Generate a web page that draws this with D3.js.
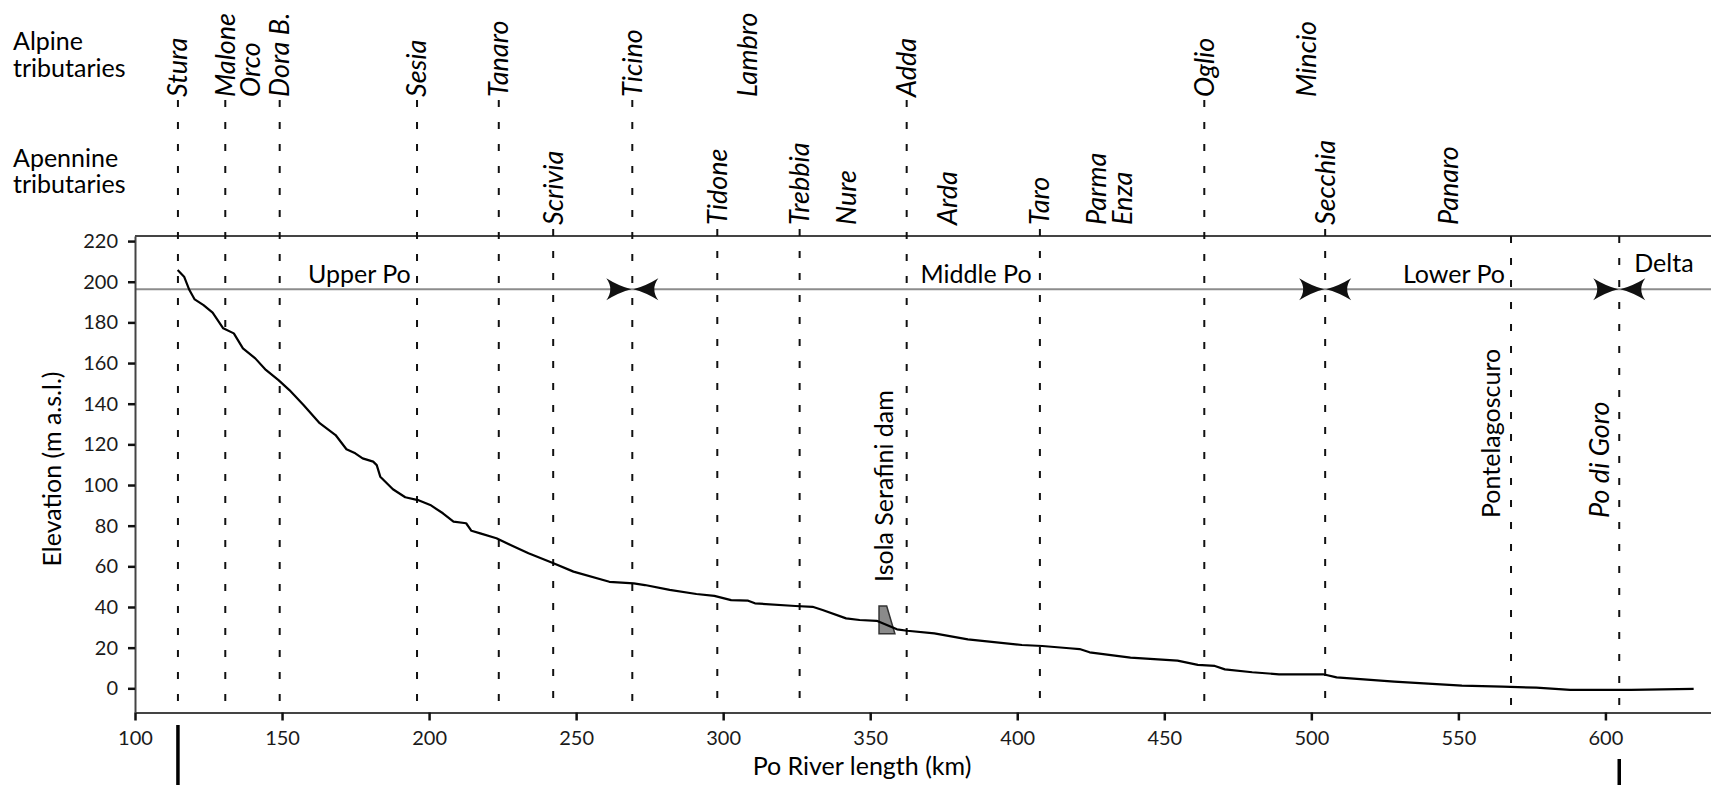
<!DOCTYPE html>
<html>
<head>
<meta charset="utf-8">
<style>
    body {
        margin: 0;
        background: #fff;
    }

    svg {
        display: block;
        font-family: Lato, "Open Sans", sans-serif;
    }

    .tick text {
        font-size: 20px;
        fill: #1a1a1a;
    }

    .lbl {
        font-size: 25px;
        fill: #000;
    }

    .trib {
        font-size: 27px;
        font-style: italic;
        fill: #000;
    }
</style>
</head>
<body>
<svg id="chart" width="1711" height="785"></svg>
<script src="https://cdn.jsdelivr.net/npm/d3@7/dist/d3.min.js"></script>
<script>
    // longitudinal profile of the Po
    var riverKm = [114.5, 116.7, 118.5, 120.3, 123.3, 126.4, 130, 133.6, 136.7, 140.9, 144.5, 148.8, 152.5, 157.3,
        162.8, 168.2, 171.9, 174.9, 177.4, 181, 182.2, 183.4, 187.7, 191.9, 196.2, 200.4, 204.7, 208.3, 212.6,
        214.4, 217.4, 222.9, 227.7, 233.8, 242.3, 249.1, 261.3, 269.6, 273.4, 281.8, 290.9, 297, 302.7, 308.5,
        310.8, 324.6, 330.4, 333.8, 341.8, 346.4, 352.2, 359.1, 362.6, 371.8, 383.2, 401.6, 408.5, 417.7, 421.2,
        424.6, 438.5, 454.5, 461.4, 467.2, 470.6, 479.9, 489, 504, 508.6, 528.2, 551.2, 565, 576.5, 588, 608.7, 630];
    var riverElev = [205.8, 202.5, 195.9, 191.3, 188.5, 184.8, 177.1, 174.6, 167.2, 162.3, 156.6, 151.6, 146.7, 139.4,
        130.4, 124.6, 117.6, 115.6, 113.1, 111.5, 109.8, 104.1, 97.9, 94, 92.6, 90.2, 86.1, 82, 81.2,
        77.5, 76.2, 73.8, 70.5, 66.4, 61.5, 57.4, 52.4, 51.6, 50.8, 48.4, 46.4, 45.5, 43.4, 43.1,
        41.8, 40.5, 40.1, 38.5, 34.4, 33.6, 33.2, 29, 28.3, 27, 24.1, 21.3, 20.8, 19.7, 19.3,
        17.7, 15.1, 13.6, 11.5, 11, 9.3, 7.9, 6.9, 6.9, 5.4, 3.3, 1.3, 0.8, 0.3, -0.8, -0.8, -0.3];

    var alpineNames = [["Stura"], ["Malone", "Orco"], ["Dora B."], ["Sesia"], ["Tanaro"], ["Ticino"], ["Lambro"], ["Adda"], ["Oglio"], ["Mincio"]];
    var alpineKm = [114.6, 130.7, 149.2, 195.9, 223.7, 269.1, 308.2, 362.4, 463.6, 498.3];
    var alpineDashed = [true, true, true, true, true, true, false, true, true, false];

    var apennineNames = [["Scrivia"], ["Tidone"], ["Trebbia"], ["Nure"], ["Arda"], ["Taro"], ["Parma", "Enza"], ["Secchia"], ["Panaro"]];
    var apennineKm = [242.2, 298, 326, 342, 376.4, 407.7, 427.1, 504.7, 546.7];
    var apennineDashed = [true, true, true, false, false, true, false, true, false];

    var stationNames = ["Pontelagoscuro", "Po di Goro"];
    var stationKm = [567.9, 604.7];
    var stationItalic = [false, true];

    var reachNames = ["Upper Po", "Middle Po", "Lower Po", "Delta"];
    var reachLabelKm = [176.3, 386, 548.5, 619.9];
    var reachBounds = [269.1, 504.7, 604.7];
    var reachLineElev = 196.3;

    var damKm = [353, 355.6, 358.4, 353];
    var damElev = [40.5, 40.5, 26.8, 26.8];

    var xTicks = [100, 150, 200, 250, 300, 350, 400, 450, 500, 550, 600];
    var yTicks = [0, 20, 40, 60, 80, 100, 120, 140, 160, 180, 200, 220];

    var plotLeft = 135, plotRight = 1711, plotTop = 236, plotBottom = 712.5;

    var svg = d3.select("#chart");
    var x = d3.scaleLinear().domain([100, 635.9]).range([plotLeft, plotRight]);
    var y = d3.scaleLinear().domain([-11.9, 222.5]).range([plotBottom, plotTop]);

    // frame top + reach line
    svg.append("line").attr("x1", plotLeft).attr("x2", plotRight).attr("y1", plotTop).attr("y2", plotTop)
        .attr("stroke", "#444").attr("stroke-width", 2);
    svg.append("line").attr("x1", plotLeft).attr("x2", plotRight)
        .attr("y1", y(reachLineElev)).attr("y2", y(reachLineElev))
        .attr("stroke", "#8c8c8c").attr("stroke-width", 2);

    function dashed(km, y0) {
        svg.append("line").attr("x1", x(km)).attr("x2", x(km)).attr("y1", y0).attr("y2", plotBottom)
            .attr("stroke", "#111").attr("stroke-width", 2).attr("stroke-dasharray", "7,15");
    }

    function label(cx, yb, lines, cls) {
        var t = svg.append("text").attr("class", cls)
            .attr("transform", "translate(" + cx + "," + yb + ") rotate(-90)");
        lines.forEach(function (s, i) {
            t.append("tspan").attr("x", 0).attr("dy", i == 0 ? "0.35em" : "0.95em").text(s);
        });
    }

    alpineKm.forEach(function (km, i) {
        if (alpineDashed[i]) dashed(km, 100);
        label(x(km), 97, alpineNames[i], "trib");
    });
    apennineKm.forEach(function (km, i) {
        if (apennineDashed[i]) dashed(km, 229);
        label(x(km), 225, apennineNames[i], "trib");
    });
    stationKm.forEach(function (km, i) {
        dashed(km, plotTop);
        label(x(km) - 20, 518, [stationNames[i]], stationItalic[i] ? "trib" : "lbl");
    });

    // headers
    [["Alpine", 50], ["tributaries", 77], ["Apennine", 167], ["tributaries", 193]].forEach(function (h) {
        svg.append("text").attr("class", "lbl").attr("x", 13).attr("y", h[1]).text(h[0]);
    });

    // axes
    var xAxis = svg.append("g").attr("transform", "translate(0," + plotBottom + ")")
        .call(d3.axisBottom(x).tickValues(xTicks).tickSize(8).tickSizeOuter(0).tickPadding(10));
    var yAxis = svg.append("g").attr("transform", "translate(" + plotLeft + ",0)")
        .call(d3.axisLeft(y).tickValues(yTicks).tickSize(7).tickSizeOuter(0).tickPadding(10));
    [xAxis, yAxis].forEach(function (a) {
        a.attr("font-family", null).attr("font-size", null);
        a.select(".domain").attr("stroke", "#444").attr("stroke-width", 2);
        a.selectAll(".tick line").attr("stroke", "#111").attr("stroke-width", 2.5);
    });

    svg.append("text").attr("class", "lbl").attr("x", 862).attr("y", 775)
        .attr("text-anchor", "middle").text("Po River length (km)");
    svg.append("text").attr("class", "lbl").attr("text-anchor", "middle")
        .attr("transform", "translate(52,469) rotate(-90)").attr("dy", "0.35em")
        .text("Elevation (m a.s.l.)");

    // dam
    var damPts = d3.zip(damKm, damElev);
    svg.append("path").attr("d", d3.line().x(function (d) { return x(d[0]); }).y(function (d) { return y(d[1]); })(damPts) + "Z")
        .attr("fill", "#8a8a8a").attr("stroke", "#333").attr("stroke-width", 1.5);
    label(x(damKm[0]) + 5, 582, ["Isola Serafini dam"], "lbl");

    // profile
    svg.append("path")
        .datum(d3.zip(riverKm, riverElev))
        .attr("d", d3.line().x(function (d) { return x(d[0]); }).y(function (d) { return y(d[1]); }))
        .attr("fill", "none").attr("stroke", "#000").attr("stroke-width", 2.2)
        .attr("stroke-linejoin", "round");

    // reach boundaries: pair of arrowheads pointing at each boundary
    var head = "M0,0 Q-12,-3 -25,-11 Q-17,0 -25,11 Q-12,3 0,0Z";
    reachBounds.forEach(function (b) {
        var px = x(b), py = y(reachLineElev);
        svg.append("path").attr("d", head).attr("fill", "#111")
            .attr("transform", "translate(" + (px - 1) + "," + py + ")");
        svg.append("path").attr("d", head).attr("fill", "#111")
            .attr("transform", "translate(" + (px + 1) + "," + py + ") scale(-1,1)");
    });

    reachNames.forEach(function (n, i) {
        svg.append("text").attr("class", "lbl").attr("text-anchor", "middle")
            .attr("x", x(reachLabelKm[i])).attr("y", i == 3 ? 272 : 283).text(n);
    });

    // solid markers below the axis
    [[alpineKm[0], 725], [stationKm[1], 759]].forEach(function (m) {
        svg.append("line").attr("x1", x(m[0])).attr("x2", x(m[0])).attr("y1", m[1]).attr("y2", 785)
            .attr("stroke", "#000").attr("stroke-width", 3.5);
    });
</script>
</body>
</html>
